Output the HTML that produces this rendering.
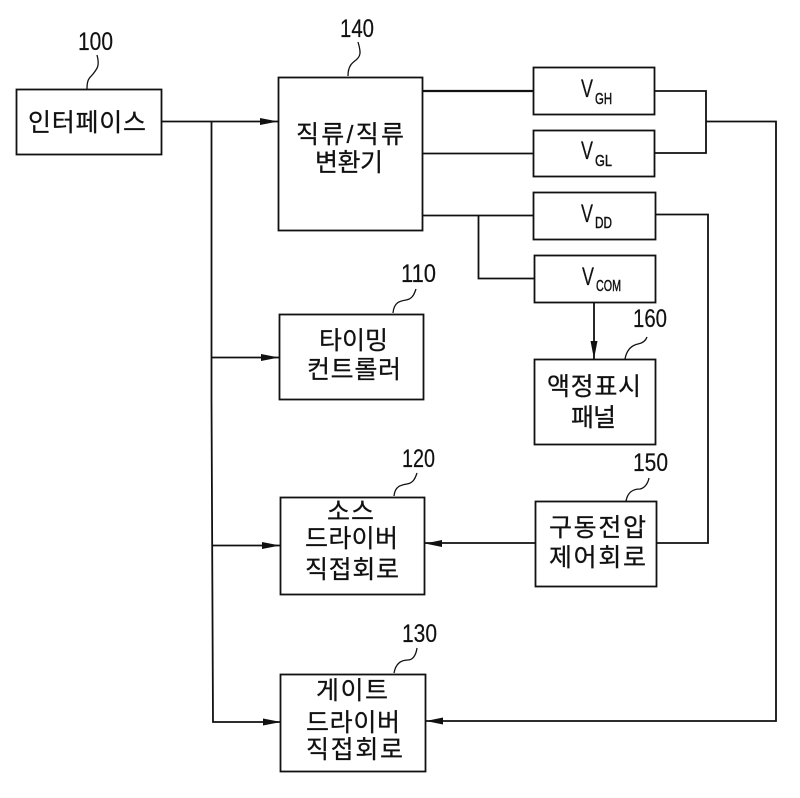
<!DOCTYPE html>
<html lang="ko">
<head>
<meta charset="utf-8">
<style>
html,body{margin:0;padding:0;background:#fff}
svg{display:block}
.k{font-family:"Liberation Sans","Noto Sans CJK KR",sans-serif;font-size:25px;fill:#111;stroke:#111;stroke-width:.25}
.n{font-family:"Liberation Sans",sans-serif;font-size:25px;fill:#111;stroke:#111;stroke-width:.2}
.v{font-family:"Liberation Sans",sans-serif;font-size:25px;fill:#111;stroke:#111;stroke-width:.2}
.s{font-family:"Liberation Sans",sans-serif;font-size:16px;fill:#111;stroke:#111;stroke-width:.45}
</style>
</head>
<body>
<svg width="800" height="798" viewBox="0 0 800 798" xmlns="http://www.w3.org/2000/svg">
<rect width="800" height="798" fill="#fff"/>
<g fill="none" stroke="#111" stroke-width="1.8">
<rect x="16.5" y="89.500" width="145" height="65"/>
<rect x="278.500" y="77.500" width="144" height="153"/>
<rect x="533.500" y="67.500" width="121" height="47"/>
<rect x="533.500" y="130.500" width="121" height="46"/>
<rect x="533.500" y="192.500" width="122" height="47"/>
<rect x="534.500" y="255.500" width="121" height="47"/>
<rect x="279.500" y="314.500" width="144" height="85"/>
<rect x="280.500" y="497.500" width="144" height="97"/>
<rect x="280.500" y="674.500" width="145" height="97"/>
<rect x="534.500" y="359.500" width="121" height="85"/>
<rect x="535.500" y="501.500" width="121" height="85"/>
<path d="M161 121.500H278"/>
<path d="M211.500 121.500V400L213 722H280"/>
<path d="M212 357.500H279"/>
<path d="M212 545.500H280"/>
<path d="M422 91H533" stroke-width="2.2"/>
<path d="M422 153.500H533"/>
<path d="M422 215.500H533"/>
<path d="M478.500 215.500V278.500H534"/>
<path d="M654 91H706V153H654"/>
<path d="M706 121.500H776V721H425"/>
<path d="M655 214.500H708V543H656"/>
<path d="M535 543H424"/>
<path d="M594 302V359"/>
<g stroke-width="1.3">
<path d="M87 89C87 78 90 78 93 74C97 69 100 66 97 55"/>
<path d="M348 76C348 66 352 63 356 60C361 56 361 52 358 42"/>
<path d="M393 313C394 302 400 301 406 300C412 299 414 295 416 289"/>
<path d="M394 496C395 486 401 485 407 484C413 483 415 479 417 473"/>
<path d="M394 673C396 662 403 660 408 660C413 660 416 655 417 648"/>
<path d="M625 359C627 348 633 345 638 344C643 343 646 340 647 337"/>
<path d="M626 501C628 491 634 489 640 489C645 488 648 483 649 478"/>
</g>
</g>
<g fill="#111">
<path d="M260 118L278 121.500L260 125Z"/>
<path d="M261 354L279 357.500L261 361Z"/>
<path d="M262 542L280 545.500L262 549Z"/>
<path d="M263 718.500L281 722L263 725.500Z"/>
<path d="M442 540L425 543.500L442 547Z"/>
<path d="M443 717.500L426 721L443 724.500Z"/>
<path d="M590.500 341L594 359L597.500 341Z"/>
</g>
<g>
<text class="n" x="78" y="50" textLength="35" lengthAdjust="spacingAndGlyphs">100</text>
<text class="n" x="340" y="37" textLength="34" lengthAdjust="spacingAndGlyphs">140</text>
<text class="n" x="401" y="282" textLength="35" lengthAdjust="spacingAndGlyphs">110</text>
<text class="n" x="402" y="467" textLength="33" lengthAdjust="spacingAndGlyphs">120</text>
<text class="n" x="402" y="642" textLength="35" lengthAdjust="spacingAndGlyphs">130</text>
<text class="n" x="633" y="327" textLength="34" lengthAdjust="spacingAndGlyphs">160</text>
<text class="n" x="633" y="471" textLength="35" lengthAdjust="spacingAndGlyphs">150</text>

<text class="k" x="28" y="131" textLength="118">인터페이스</text>
<text class="k" x="296" y="143" textLength="108">직류/직류</text>
<text class="k" x="315" y="171" textLength="68">변환기</text>
<text class="k" x="319" y="349" textLength="69">타이밍</text>
<text class="k" x="307" y="378" textLength="94">컨트롤러</text>
<text class="k" x="327" y="520" textLength="47">소스</text>
<text class="k" x="305" y="547" textLength="93">드라이버</text>
<text class="k" x="305" y="578" textLength="94">직접회로</text>
<text class="k" x="316" y="699" textLength="72">게이트</text>
<text class="k" x="306" y="731" textLength="94">드라이버</text>
<text class="k" x="306" y="758" textLength="97">직접회로</text>
<text class="k" x="547" y="395" textLength="94">액정표시</text>
<text class="k" x="571" y="426" textLength="45">패널</text>
<text class="k" x="549" y="536" textLength="97">구동전압</text>
<text class="k" x="549" y="566" textLength="97">제어회로</text>

<text class="v" x="581" y="97" textLength="12" lengthAdjust="spacingAndGlyphs">V</text>
<text class="s" x="595" y="104" textLength="17" lengthAdjust="spacingAndGlyphs">GH</text>
<text class="v" x="581" y="159" textLength="12" lengthAdjust="spacingAndGlyphs">V</text>
<text class="s" x="595" y="166" textLength="17" lengthAdjust="spacingAndGlyphs">GL</text>
<text class="v" x="581" y="222" textLength="12" lengthAdjust="spacingAndGlyphs">V</text>
<text class="s" x="595" y="228" textLength="17" lengthAdjust="spacingAndGlyphs">DD</text>
<text class="v" x="582" y="285" textLength="12" lengthAdjust="spacingAndGlyphs">V</text>
<text class="s" x="596" y="291" textLength="25" lengthAdjust="spacingAndGlyphs">COM</text>
</g>
</svg>
</body>
</html>
